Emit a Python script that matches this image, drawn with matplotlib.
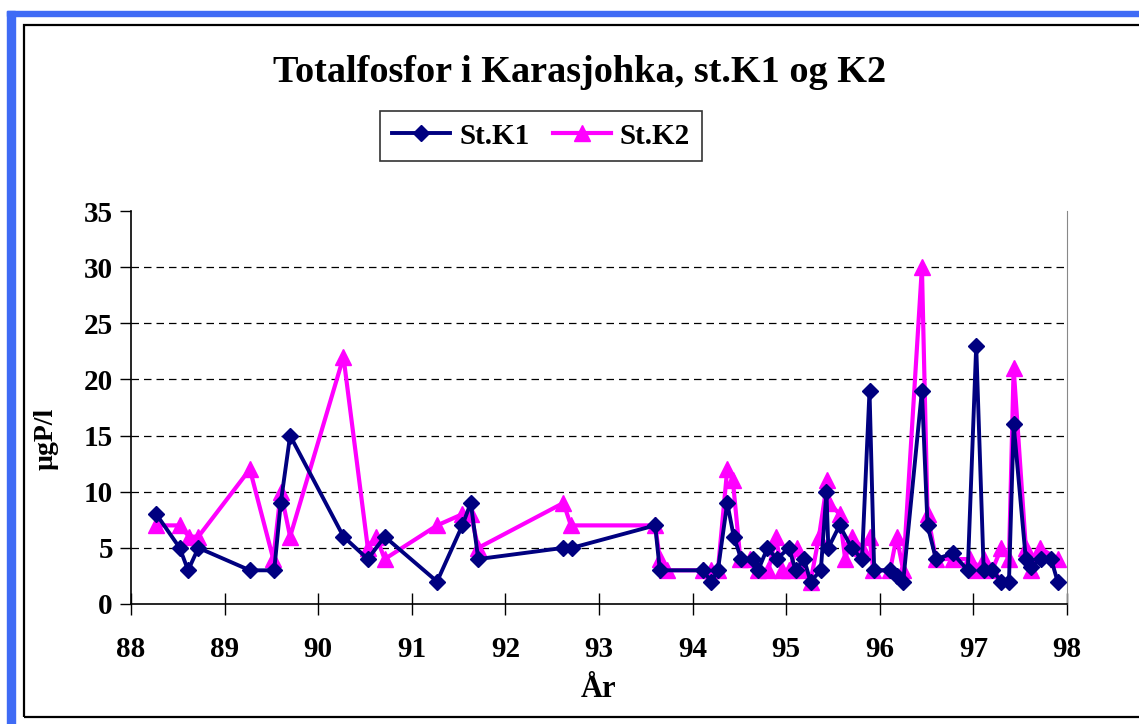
import matplotlib
matplotlib.use("Agg")
import matplotlib.pyplot as plt
from matplotlib.patches import Rectangle

# ---- data ----
k1_year = [88.27, 88.52, 88.61, 88.72, 89.27, 89.53, 89.60, 89.70, 90.27, 90.53,
           90.71, 91.27, 91.54, 91.63, 91.71, 92.62, 92.71, 93.60, 93.65, 94.11,
           94.20, 94.27, 94.37, 94.44, 94.52, 94.64, 94.70, 94.80, 94.90, 95.03,
           95.10, 95.19, 95.26, 95.37, 95.43, 95.45, 95.57, 95.70, 95.81, 95.89,
           95.94, 96.11, 96.18, 96.25, 96.45, 96.51, 96.60, 96.78, 96.94, 97.03,
           97.11, 97.20, 97.30, 97.38, 97.43, 97.56, 97.62, 97.72, 97.83, 97.90]
k1_val = [8, 5, 3, 5, 3, 3, 9, 15, 6, 4,
          6, 2, 7, 9, 4, 5, 5, 7, 3, 3,
          2, 3, 9, 6, 4, 4, 3, 5, 4, 5,
          3, 4, 2, 3, 10, 5, 7, 5, 4, 19,
          3, 3, 2.5, 2, 19, 7, 4, 4.5, 3, 23,
          3, 3, 2, 2, 16, 4, 3.3, 4, 4, 2]

k2_year = [88.27, 88.52, 88.62, 88.72, 89.27, 89.52, 89.60, 89.70, 90.27, 90.53,
           90.62, 90.71, 91.27, 91.54, 91.63, 91.71, 92.62, 92.70, 93.60, 93.65,
           93.73, 94.11, 94.20, 94.27, 94.37, 94.43, 94.51, 94.61, 94.70, 94.81,
           94.89, 94.95, 95.03, 95.12, 95.17, 95.26, 95.35, 95.44, 95.46, 95.57,
           95.63, 95.70, 95.81, 95.89, 95.93, 96.11, 96.18, 96.25, 96.45, 96.51,
           96.60, 96.78, 96.96, 97.03, 97.11, 97.20, 97.30, 97.38, 97.43, 97.56,
           97.62, 97.71, 97.90]
k2_val = [7, 7, 6, 6, 12, 4, 10, 6, 22, 5,
          6, 4, 7, 8, 8, 5, 9, 7, 7, 4,
          3, 3, 3, 3, 12, 11, 4, 4, 3, 3,
          6, 3, 3, 5, 3, 2, 6, 11, 9, 8,
          4, 6, 5, 6, 3, 3, 6, 3, 30, 8,
          4, 4, 4, 3, 4, 3, 5, 4, 21, 5,
          3, 5, 4]

series_labels = ["St.K1", "St.K2"]
title = "Totalfosfor i Karasjohka, st.K1 og K2"
x_ticks = list(range(88, 99))
y_ticks = list(range(0, 36, 5))

# ---- figure ----
W, H = 1139, 724
fig = plt.figure(figsize=(W / 100, H / 100), dpi=100)
serif = ["Liberation Serif", "DejaVu Serif"]

def fx(px):
    return px / W

def fy(py):
    return 1 - py / H

# outer decorations: blue band and black frame
blue = "#3F6BF5"
fig.patches.append(Rectangle((fx(7), fy(724)), fx(15) - fx(7), fy(11) - fy(724),
                             transform=fig.transFigure, color=blue, zorder=0))
fig.patches.append(Rectangle((fx(7), fy(16)), 1, fy(11) - fy(16),
                             transform=fig.transFigure, color=blue, zorder=0))
fig.patches.append(Rectangle((fx(24), fy(717)), 1.2, fy(25) - fy(717),
                             transform=fig.transFigure, fill=False,
                             edgecolor="black", linewidth=1.6, zorder=0))

ax = fig.add_axes([fx(131), fy(604), fx(1067) - fx(131), fy(211) - fy(604)])

ax.plot(k1_year, k1_val, color="#000080", lw=2.8, marker="D", ms=8.5,
        label=series_labels[0], zorder=3)
ax.plot(k2_year, k2_val, color="#FF00FF", lw=3.0, marker="^", ms=11,
        label=series_labels[1], zorder=2)

ax.set_xlim(88, 98)
ax.set_ylim(0, 35)
ax.set_xticks(x_ticks)
ax.set_yticks(y_ticks)
ax.set_xticklabels([str(t) for t in x_ticks], fontfamily=serif,
                   fontweight="bold", fontsize=21)
ax.set_yticklabels([str(t) for t in y_ticks], fontfamily=serif,
                   fontweight="bold", fontsize=21)
ax.tick_params(axis="x", direction="inout", length=16, width=1, pad=15)
ax.tick_params(axis="y", direction="out", length=8, width=1, pad=5)

for y in y_ticks[1:-1]:
    ax.axhline(y, color="black", lw=0.9, ls=(0, (6, 4)), zorder=1)

ax.spines["top"].set_visible(False)
ax.spines["right"].set_color("#888888")
ax.spines["left"].set_linewidth(1.2)
ax.spines["bottom"].set_linewidth(1.2)

ax.set_xlabel("År", fontfamily=serif, fontweight="bold", fontsize=22, labelpad=9)
ax.set_ylabel("µgP/l", fontfamily=serif, fontweight="bold", fontsize=20)
ax.yaxis.set_label_coords(-0.077, 0.42)

fig.text(0.509, fy(73), title, ha="center", va="center",
         fontfamily=serif, fontweight="bold", fontsize=27.5)

leg = fig.legend(loc="center", bbox_to_anchor=(fx(541), fy(136)), ncol=2,
                 prop={"family": serif, "weight": "bold", "size": 21},
                 frameon=True, fancybox=False, edgecolor="black",
                 handlelength=2.0, columnspacing=0.8, borderpad=0.4,
                 handletextpad=0.3)
leg.get_frame().set_linewidth(1.2)

fig.savefig("out.png", dpi=100)
